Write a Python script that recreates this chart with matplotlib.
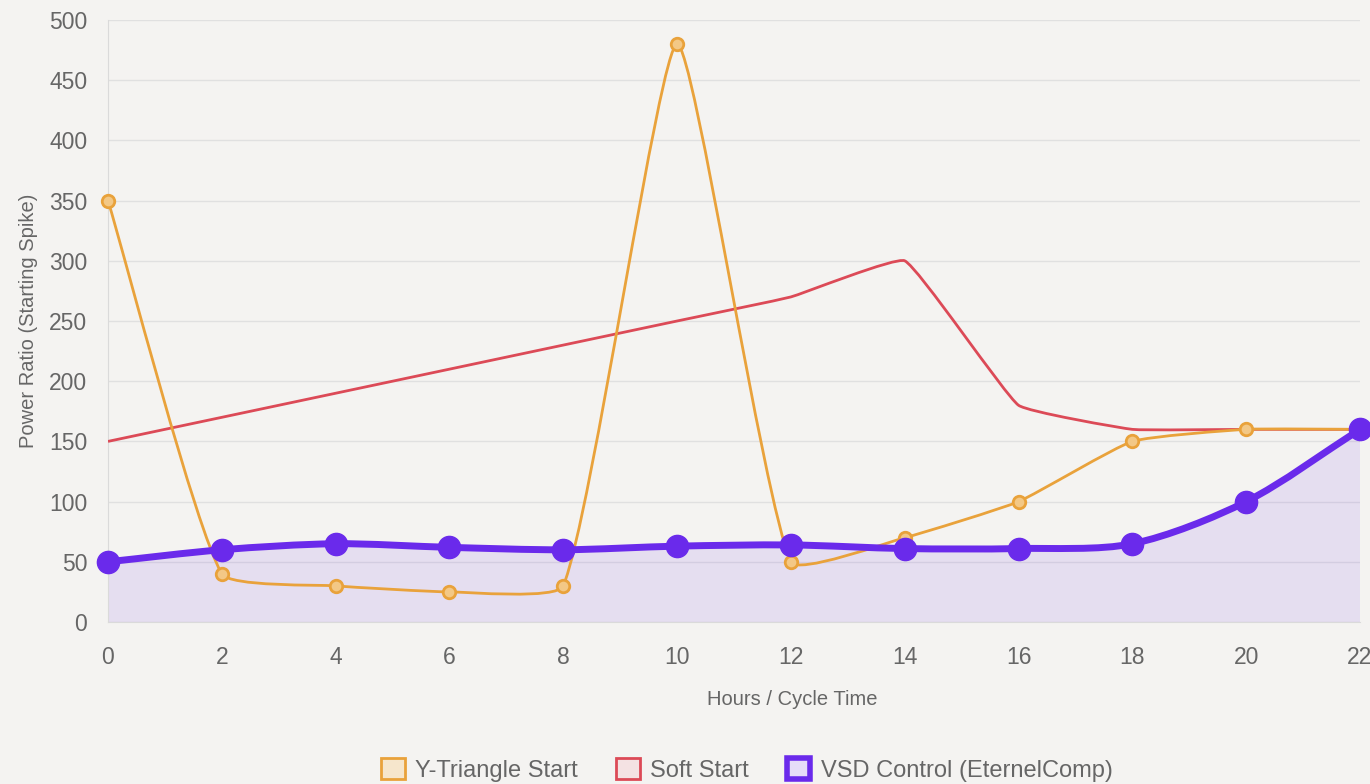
import numpy as np
import matplotlib
matplotlib.use('Agg')
import matplotlib.pyplot as plt
from matplotlib.path import Path
from matplotlib.patches import PathPatch, Patch

plt.rcParams['font.family'] = ['Liberation Sans', 'DejaVu Sans']

# Datos
horas = [0, 2, 4, 6, 8, 10, 12, 14, 16, 18, 20, 22]
y_triangulo = [350, 40, 30, 25, 30, 480, 50, 70, 100, 150, 160, 160]
arranque_suave = [150, 170, 190, 210, 230, 250, 270, 300, 180, 160, 160, 160]
vsd_control = [50, 60, 65, 62, 60, 63, 64, 61, 61, 65, 100, 160]

etiquetas = ['Y-Triangle Start', 'Soft Start', 'VSD Control (EternelComp)']
c_naranja = '#E9A23B'
c_rojo = '#DC4A57'
c_morado = '#6A2AEB'
fondo = '#F4F3F1'


def curva_spline(ax, xs, ys, tension):
    # control points como Chart.js (calculados en pixeles)
    trans = ax.transData
    pts = trans.transform(np.column_stack([xs, ys]))
    n = len(pts)
    cp_prev, cp_next = [], []
    for i in range(n):
        p0 = pts[max(i - 1, 0)]
        p1 = pts[i]
        p2 = pts[min(i + 1, n - 1)]
        d01 = np.hypot(*(p1 - p0))
        d12 = np.hypot(*(p2 - p1))
        tot = d01 + d12
        s01 = d01 / tot if tot else 0
        s12 = d12 / tot if tot else 0
        cp_prev.append(p1 - tension * s01 * (p2 - p0))
        cp_next.append(p1 + tension * s12 * (p2 - p0))
    verts = [pts[0]]
    codes = [Path.MOVETO]
    for i in range(n - 1):
        verts += [cp_next[i], cp_prev[i + 1], pts[i + 1]]
        codes += [Path.CURVE4] * 3
    verts = trans.inverted().transform(np.array(verts))
    return verts, codes


fig = plt.figure(figsize=(13.7, 7.84), dpi=100, facecolor=fondo)
ax = fig.add_axes([108 / 1370, 1 - 622 / 784, (1360 - 108) / 1370, (622 - 20) / 784])
ax.set_facecolor(fondo)
ax.set_xlim(0, 22)
ax.set_ylim(0, 500)
ax.set_xticks(horas)
ax.set_yticks(range(0, 501, 50))
ax.grid(axis='y', color='#e0e0e0', linewidth=1)
ax.set_axisbelow(True)
for s in ['top', 'right']:
    ax.spines[s].set_visible(False)
for s in ['left', 'bottom']:
    ax.spines[s].set_color('#dadada')
ax.tick_params(axis='both', length=0, labelsize=16.5, labelcolor='#666666')
ax.tick_params(axis='y', pad=15)
ax.tick_params(axis='x', pad=17)
ax.set_xlabel('Hours / Cycle Time', fontsize=14.5, color='#666666')
ax.xaxis.set_label_coords((792 - 108) / 1252, -(690 - 622) / 602)
ax.set_ylabel('Power Ratio (Starting Spike)', fontsize=14.5, color='#666666', labelpad=8)

# Relleno + linea VSD
verts, codes = curva_spline(ax, horas, vsd_control, 0.3)
relleno = np.vstack([verts, [[22, 0], [0, 0], [0, 0]]])
codes_r = codes + [Path.LINETO, Path.LINETO, Path.CLOSEPOLY]
ax.add_patch(PathPatch(Path(relleno, codes_r), facecolor=c_morado, alpha=0.10,
                       edgecolor='none', zorder=1))

# Soft start
verts, codes = curva_spline(ax, horas, arranque_suave, 0.1)
ax.add_patch(PathPatch(Path(verts, codes), facecolor='none', edgecolor=c_rojo,
                       linewidth=2, zorder=3))

# Y-triangulo
verts, codes = curva_spline(ax, horas, y_triangulo, 0.15)
ax.add_patch(PathPatch(Path(verts, codes), facecolor='none', edgecolor=c_naranja,
                       linewidth=2, zorder=4))
ax.plot(horas, y_triangulo, linestyle='none', marker='o', markersize=9,
        markerfacecolor='#F3C886', markeredgecolor=c_naranja, markeredgewidth=2,
        zorder=5, clip_on=False)

# VSD linea
verts, codes = curva_spline(ax, horas, vsd_control, 0.3)
ax.add_patch(PathPatch(Path(verts, codes), facecolor='none', edgecolor=c_morado,
                       linewidth=5, capstyle='round', joinstyle='round', zorder=6))
ax.plot(horas, vsd_control, linestyle='none', marker='o', markersize=16,
        markerfacecolor=c_morado, markeredgecolor=c_morado, zorder=7, clip_on=False)

handles = [
    Patch(facecolor='#F6E6CC', edgecolor=c_naranja, linewidth=2),
    Patch(facecolor='#F4E2E3', edgecolor=c_rojo, linewidth=2),
    Patch(facecolor='#E6DDF8', edgecolor=c_morado, linewidth=4),
]
fig.legend(handles, etiquetas, loc='center', bbox_to_anchor=(747 / 1370, 1 - 770 / 784),
           ncol=3, frameon=False, fontsize=17, labelcolor='#666666',
           handlelength=1.0, handleheight=1.0, handletextpad=0.45, columnspacing=1.6)

fig.savefig('out.png', dpi=100, facecolor=fondo)
